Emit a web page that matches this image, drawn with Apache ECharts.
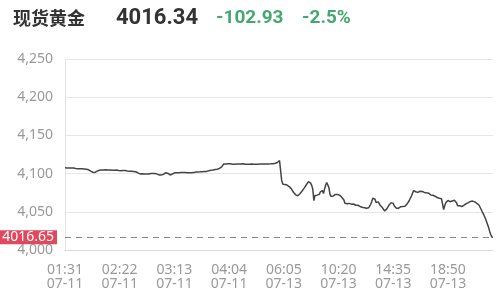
<!DOCTYPE html>
<html>
<head>
<meta charset="utf-8">
<script src="https://cdn.jsdelivr.net/npm/echarts@6/dist/echarts.min.js"></script>
<style>
html,body{margin:0;padding:0;background:#fff;}
#main{width:499px;height:295px;}
</style>
</head>
<body>
<div id="main"></div>
<script>
// ---- header texts ----
const headerName = '现货黄金';
const headerPrice = '4016.34';
const headerChange = '-102.93';
const headerPct = '-2.5%';

// ---- y axis ----
const yMin = 4000, yMax = 4250, yStep = 50;
const lastMark = 4016.65;

// ---- sessions (category times) ----
const sessions = [
  { day: '07-11', start: '01:31', stepMin: 1, count: 202 },
  { day: '07-13', start: '05:55', stepMin: 5, count: 198 }
];

// ---- price values ----
const pricesJul11 = [
4107.5,4107.8,4107.4,4107.6,4107.2,4107.5,4107.3,4107.0,4107.2,4106.9,
4106.6,4106.8,4106.4,4106.6,4106.3,4106.5,4106.2,4106.4,4106.0,4106.3,
4105.8,4105.5,4105.0,4104.2,4103.2,4102.4,4101.8,4102.0,4101.6,4102.4,
4103.2,4104.0,4104.4,4104.2,4104.6,4104.3,4104.8,4104.5,4104.9,4105.2,
4104.8,4105.0,4104.6,4104.9,4104.4,4104.8,4104.5,4104.2,4104.6,4104.3,
4104.0,4104.4,4103.8,4104.2,4103.9,4103.6,4104.0,4103.7,4103.4,4103.6,
4103.2,4103.5,4103.0,4103.3,4102.8,4103.0,4102.4,4101.8,4100.9,4100.0,
4099.6,4099.4,4099.7,4099.3,4099.6,4099.2,4099.5,4099.8,4099.4,4099.9,
4100.2,4099.8,4100.1,4099.7,4100.0,4099.6,4099.3,4098.8,4098.2,4097.9,
4098.3,4098.0,4099.2,4100.6,4101.2,4100.9,4100.2,4098.8,4098.2,4098.5,
4099.4,4100.4,4101.0,4100.6,4101.1,4100.8,4101.2,4100.9,4101.3,4101.0,
4101.4,4101.1,4101.5,4101.2,4101.0,4101.4,4101.1,4101.5,4101.2,4101.6,
4101.3,4101.7,4102.0,4102.4,4102.2,4102.6,4102.3,4102.8,4102.5,4103.0,
4102.7,4103.1,4102.9,4103.3,4103.6,4104.0,4104.4,4104.2,4104.8,4105.1,
4105.4,4105.2,4105.8,4106.2,4106.8,4107.5,4108.8,4110.5,4112.6,4113.0,
4112.7,4113.1,4112.8,4112.5,4112.9,4112.6,4112.3,4112.7,4112.4,4112.8,
4112.5,4112.2,4112.6,4112.3,4112.7,4112.4,4112.8,4112.5,4112.2,4112.6,
4112.3,4112.7,4112.4,4112.1,4112.5,4112.8,4112.4,4112.6,4112.3,4112.7,
4112.4,4112.8,4112.5,4112.9,4112.6,4112.3,4112.7,4113.0,4112.6,4112.9,
4112.7,4113.1,4112.8,4113.2,4113.0,4113.4,4113.6,4114.0,4114.5,4115.4,
4117.0,4119.0
];
const pricesJul13 = [
4091.0,
4086.5,4085.2,4085.6,4084.6,4085.0,4084.4,4083.0,
4081.2,4080.0,4078.2,4075.6,4073.4,4072.2,4071.6,4071.0,4072.0,4073.6,
4075.4,4077.2,4079.0,4081.0,4083.2,4085.4,4087.8,4089.6,4088.4,4087.6,
4084.6,4079.6,4064.6,4071.2,4073.0,4071.8,4074.2,4072.8,4076.0,4075.2,
4077.8,4074.0,4080.0,4085.0,4088.2,4087.4,4082.0,4073.2,4070.2,4071.2,
4070.6,4072.2,4072.8,4071.0,4072.6,4075.0,4071.8,4070.2,4069.0,4068.2,
4065.4,4061.2,4059.8,4060.6,4059.8,4061.0,4060.6,4060.0,4059.2,4060.2,
4059.0,4058.6,4058.0,4058.6,4057.4,4057.0,4056.8,4056.0,4055.8,4055.4,
4055.0,4054.6,4054.0,4055.2,4057.4,4059.8,4063.6,4068.0,4067.0,4066.4,
4062.2,4063.4,4063.0,4060.4,4058.2,4057.6,4055.2,4053.0,4051.0,4052.0,
4053.8,4055.4,4058.6,4061.2,4062.0,4061.4,4061.0,4057.6,4055.4,4054.6,
4054.0,4054.8,4055.6,4056.7,4056.2,4057.0,4057.6,4057.2,4058.6,4060.4,
4062.0,4064.8,4068.0,4070.7,4074.2,4077.7,4075.4,4076.2,4075.0,4075.4,
4076.4,4077.0,4077.7,4076.6,4075.8,4075.4,4075.8,4074.8,4074.0,4074.4,
4073.2,4072.0,4072.6,4071.6,4071.0,4070.4,4069.6,4068.7,4068.2,4067.8,
4067.4,4067.0,4066.5,4053.0,4058.0,4062.0,4063.4,4064.8,4065.6,4063.2,
4062.0,4064.2,4066.5,4065.2,4064.3,4062.0,4058.0,4057.4,4058.0,4056.8,
4056.7,4057.6,4058.6,4059.8,4060.6,4061.4,4062.0,4063.0,4063.6,4064.3,
4064.0,4063.4,4063.0,4062.2,4061.0,4059.8,4058.6,4056.4,4053.0,4050.0,
4047.2,4044.2,4040.8,4037.0,4033.0,4029.0,4024.0,4020.0,4016.9,4016.65
];

// build categories from sessions
function pad(n){return (n<10?'0':'')+n;}
const categories = [];
sessions.forEach(s => {
  const [h, m] = s.start.split(':').map(Number);
  let t = h*60 + m;
  for (let k = 0; k < s.count; k++) {
    const mm = t + k*s.stepMin;
    categories.push(pad(Math.floor(mm/60)%24) + ':' + pad(mm%60) + ' ' + s.day);
  }
});
const prices = pricesJul11.concat(pricesJul13);

const chart = echarts.init(document.getElementById('main'), null, {renderer: 'canvas'});
const green = '#44a870';
chart.setOption({
  animation: false,
  backgroundColor: '#fff',
  graphic: [
    { type: 'text', left: 13, top: 9, style: { text: headerName, fill: '#333', font: 'bold 18px "Noto Sans CJK SC"' } },
    { type: 'text', left: 116, top: 7, style: { text: headerPrice, fill: '#333', font: 'bold 22px Roboto' } },
    { type: 'text', left: 216, top: 9, style: { text: headerChange, fill: green, font: 'bold 19px Roboto' } },
    { type: 'text', left: 302, top: 9, style: { text: headerPct, fill: green, font: 'bold 19px Roboto' } }
  ],
  grid: { left: 65, right: 6, top: 59, bottom: 45 },
  xAxis: {
    type: 'category',
    data: categories,
    boundaryGap: false,
    axisLine: { lineStyle: { color: '#d9d9d9' } },
    axisTick: { show: false },
    axisLabel: {
      interval: 50,
      color: '#999',
      fontSize: 14,
      fontFamily: '"Noto Sans"',
      lineHeight: 14,
      margin: 13,
      formatter: v => { const p = v.split(' '); return p[0] + '\n' + p[1]; }
    },
    splitLine: { show: false }
  },
  yAxis: {
    type: 'value',
    min: yMin, max: yMax, interval: yStep,
    axisLine: { show: true, lineStyle: { color: '#e3e3e3' } },
    axisTick: { show: false },
    axisLabel: {
      color: '#999', fontSize: 14, fontFamily: '"Noto Sans"', margin: 12,
      formatter: v => v.toLocaleString('en-US')
    },
    splitLine: { lineStyle: { color: '#e6e6e6' } }
  },
  series: [{
    type: 'line',
    data: prices,
    showSymbol: false,
    symbol: 'none',
    lineStyle: { color: '#444', width: 1.5 },
    markLine: {
      silent: true,
      symbol: 'none',
      lineStyle: { color: '#888', type: [6, 5], width: 1 },
      label: {
        position: 'start',
        distance: 8,
        formatter: () => lastMark.toFixed(2),
        color: '#fff',
        backgroundColor: '#e0485b',
        fontSize: 14,
        fontFamily: '"Noto Sans"',
        padding: [0, 3, 0, 3],
        lineHeight: 14
      },
      data: [{ yAxis: lastMark }]
    }
  }]
});
</script>
</body>
</html>
